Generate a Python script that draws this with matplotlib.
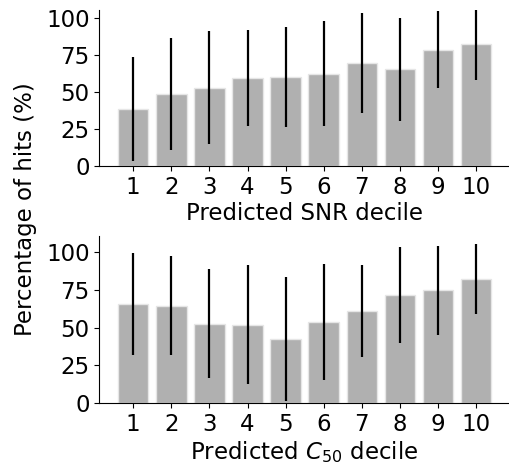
import matplotlib
matplotlib.use("Agg")
import matplotlib.pyplot as plt
import numpy as np

deciles = [1, 2, 3, 4, 5, 6, 7, 8, 9, 10]
snr_mean = [38.4, 48.8, 53.0, 59.6, 60.3, 62.5, 69.8, 65.5, 78.6, 82.6]
snr_err = [35.0, 38.0, 38.2, 32.7, 33.6, 35.5, 34.0, 34.8, 26.0, 24.6]
c50_mean = [65.6, 64.5, 52.6, 51.8, 42.5, 53.7, 61.0, 71.6, 74.7, 82.0]
c50_err = [34.0, 32.9, 36.0, 39.3, 41.0, 38.4, 30.6, 31.5, 29.3, 22.9]
yticks = [0, 25, 50, 75, 100]

plt.rcParams['font.size'] = 16.5
fig = plt.figure(figsize=(5.1, 4.63), dpi=100)
W, H = 510, 463
ax1 = fig.add_axes([99.3 / W, (H - 166) / H, (W - 99.3) / W, 156 / H])
ax2 = fig.add_axes([99.3 / W, (H - 403.3) / H, (W - 99.3) / W, 167.3 / H])

for ax, m, e, lab, ylim in [
    (ax1, snr_mean, snr_err, "Predicted SNR decile", 105.5),
    (ax2, c50_mean, c50_err, "Predicted $C_{50}$ decile", 110.5),
]:
    ax.bar(deciles, m, width=0.8, color="#b0b0b0", edgecolor="#e6e6e6", linewidth=1)
    ax.errorbar(deciles, m, yerr=e, fmt="none", ecolor="black", elinewidth=1.6, capsize=0)
    ax.set_ylim(0, ylim)
    ax.set_xlim(0.11, 10.89)
    ax.set_xticks(deciles)
    ax.set_yticks(yticks)
    ax.set_xlabel(lab, labelpad=2)
    ax.spines["top"].set_visible(False)
    ax.spines["right"].set_visible(False)

fig.text(26 / W, 1 - 209 / H, "Percentage of hits (%)", rotation=90, va="center", ha="center")

fig.savefig("out.png", dpi=100)
